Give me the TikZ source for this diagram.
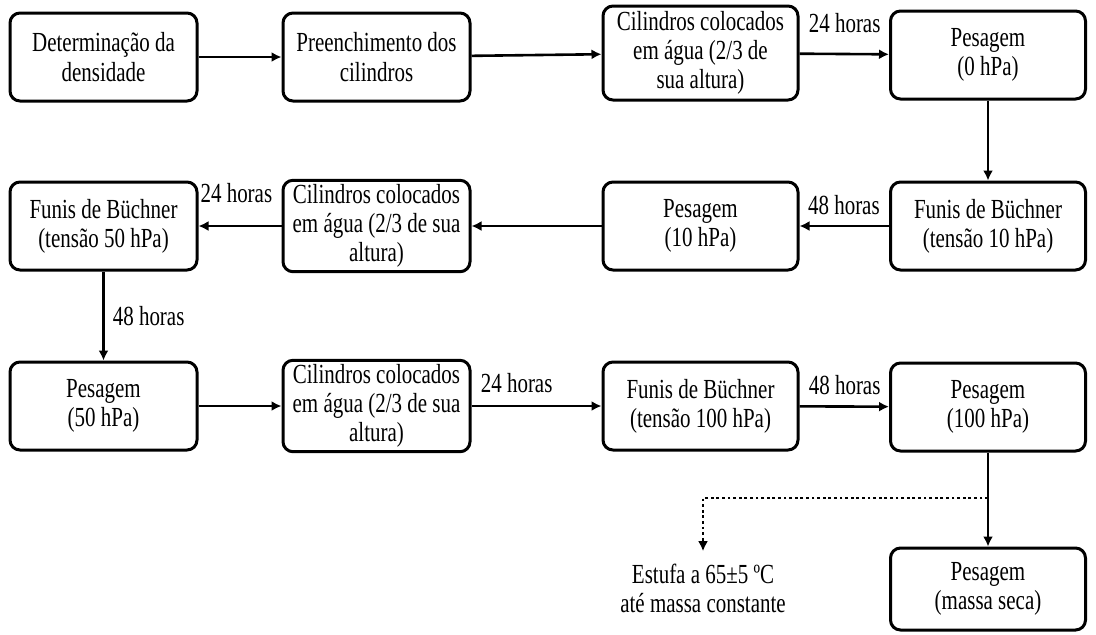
\documentclass[tikz,border=0pt]{standalone}
\usepackage{fontspec}
\setmainfont{Liberation Serif}[FakeStretch=0.76]
\usepackage{tikz}
\usetikzlibrary{arrows.meta}

\tikzset{
  stepbox/.style={draw, line width=1.5pt, rounded corners=5pt, align=center,
    minimum width=93.5pt, minimum height=44pt, inner sep=2pt},
  widebox/.style={stepbox, minimum width=97.5pt},
  arr/.style={-{Latex[length=5pt,width=5pt]}, line width=1.3pt},
  dotarr/.style={arr, dash pattern=on 1.4pt off 1.4pt, line width=1.4pt},
  lbl/.style={inner sep=4pt},
}

\begin{document}
\begin{tikzpicture}[x=0.5pt, y=-0.5pt,
    every node/.style={font=\fontsize{13.8}{14.6}\selectfont}]
  % Fix the page to the size of the figure
  \useasboundingbox (0,0) rectangle (1096,634);

  % First row
  \node[stepbox] (det) at (103.5,57) {Determinação da\\densidade};
  \node[stepbox] (pre) at (376.5,57) {Preenchimento dos\\cilindros};
  \node[widebox, minimum height=47pt] (cilA) at (700.5,53) {Cilindros colocados\\em água (2/3 de\\sua altura)};
  \node[widebox] (pesA) at (988,55) {Pesagem\\(0 hPa)};

  % Second row (right to left)
  \node[widebox] (funA) at (988,226) {Funis de Büchner\\(tensão 10 hPa)};
  \node[widebox] (pesB) at (700.5,226) {Pesagem\\(10 hPa)};
  \node[stepbox] (cilB) at (376.5,226) {Cilindros colocados\\em água (2/3 de sua\\altura)};
  \node[stepbox] (funB) at (103.5,226) {Funis de Büchner\\(tensão 50 hPa)};

  % Third row
  \node[stepbox] (pesC) at (103.5,406) {Pesagem\\(50 hPa)};
  \node[stepbox] (cilC) at (376.5,406) {Cilindros colocados\\em água (2/3 de sua\\altura)};
  \node[widebox] (funC) at (700.5,406) {Funis de Büchner\\(tensão 100 hPa)};
  \node[widebox] (pesD) at (988,407) {Pesagem\\(100 hPa)};

  % Last step
  \node[widebox, minimum height=41pt] (pesE) at (988,589) {Pesagem\\(massa seca)};
  \node[align=center, inner sep=6pt] (estufa) at (703,588) {Estufa a 65±5 ºC\\até massa constante};

  % Draw the arrows
  \foreach \a/\b in {det/pre, pre/cilA, pesA/funA, pesB/cilB, pesC/cilC, pesD/pesE} {
    \draw[arr] (\a) -- (\b);
  }
  \draw[arr] (cilA) -- node[lbl, pos=0, above right, yshift=6pt] {24 horas} (pesA);
  \draw[arr] (funA) -- node[lbl, pos=0, above left, yshift=1pt] {48 horas} (pesB);
  \draw[arr] (cilB) -- node[lbl, pos=0, above left, yshift=7pt] {24 horas} (funB);
  \draw[arr] (funB) -- node[lbl, midway, right] {48 horas} (pesC);
  \draw[arr] (cilC) -- node[lbl, pos=0, above right, yshift=2pt] {24 horas} (funC);
  \draw[arr] (funC) -- node[lbl, pos=0, above right, yshift=1pt] {48 horas} (pesD);

  % Dotted branch to the oven
  \coordinate (split) at (988,498);
  \draw[dotarr] (split) -| (estufa.north);
\end{tikzpicture}
\end{document}
